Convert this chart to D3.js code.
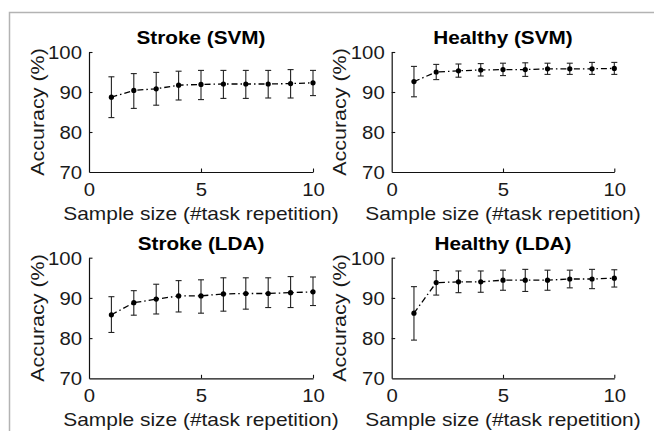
<!DOCTYPE html>
<html>
<head>
<meta charset="utf-8">
<script src="https://cdn.jsdelivr.net/npm/d3@7"></script>
<style>
  html, body { margin: 0; padding: 0; background: #fff; }
  svg { display: block; }
</style>
</head>
<body>
<svg id="chart" width="654" height="431"></svg>
<script>
// ---------- data ----------
const sampleSizes = [1, 2, 3, 4, 5, 6, 7, 8, 9, 10];
const xTickValues = [0, 5, 10];
const yTickValues = [70, 80, 90, 100];
const panelTitles = ["Stroke (SVM)", "Healthy (SVM)", "Stroke (LDA)", "Healthy (LDA)"];
const xAxisLabel = "Sample size (#task repetition)";
const yAxisLabel = "Accuracy (%)";

const strokeSvmMean  = [88.7, 90.4, 90.8, 91.7, 91.9, 92.0, 92.0, 92.0, 92.1, 92.3];
const strokeSvmUpper = [93.8, 94.6, 94.9, 95.2, 95.4, 95.4, 95.4, 95.4, 95.6, 95.4];
const strokeSvmLower = [83.6, 85.9, 86.7, 88.0, 88.1, 88.4, 88.4, 88.5, 88.5, 89.1];

const healthySvmMean  = [92.6, 95.0, 95.3, 95.5, 95.6, 95.6, 95.8, 95.8, 95.8, 95.9];
const healthySvmUpper = [96.4, 96.9, 97.0, 97.1, 97.2, 97.3, 97.2, 97.2, 97.4, 97.4];
const healthySvmLower = [88.8, 93.1, 93.7, 94.0, 94.1, 93.9, 94.4, 94.4, 94.4, 94.4];

const strokeLdaMean  = [85.8, 88.8, 89.7, 90.5, 90.5, 91.0, 91.1, 91.1, 91.3, 91.5];
const strokeLdaUpper = [90.3, 91.8, 93.4, 94.3, 94.5, 95.0, 95.0, 95.0, 95.3, 95.2];
const strokeLdaLower = [81.4, 85.7, 86.0, 86.5, 86.2, 86.7, 87.2, 87.6, 87.6, 88.1];

const healthyLdaMean  = [86.2, 93.8, 94.0, 94.0, 94.4, 94.4, 94.4, 94.7, 94.7, 94.9];
const healthyLdaUpper = [92.8, 96.8, 96.7, 96.7, 96.9, 97.1, 96.9, 96.9, 97.1, 97.0];
const healthyLdaLower = [79.5, 90.7, 91.3, 91.4, 91.9, 91.6, 91.9, 92.5, 92.3, 92.7];

const panelSeries = [
  { mean: strokeSvmMean,  upper: strokeSvmUpper,  lower: strokeSvmLower },
  { mean: healthySvmMean, upper: healthySvmUpper, lower: healthySvmLower },
  { mean: strokeLdaMean,  upper: strokeLdaUpper,  lower: strokeLdaLower },
  { mean: healthyLdaMean, upper: healthyLdaUpper, lower: healthyLdaLower }
];

// ---------- layout ----------
const colLeft  = [89, 391.7];
const colRight = [313, 614.3];
const rowTop    = [52, 257.7];
const rowBottom = [172, 378.3];
const FONT = "'Liberation Sans', Arial, Helvetica, sans-serif";
const STRETCH = 1.13;

const svg = d3.select("#chart");

// frame (light grey, top + left)
svg.append("path")
  .attr("d", "M9.5,431 L9.5,12.5 L654,12.5")
  .attr("fill", "none")
  .attr("stroke", "#b3b3b3")
  .attr("stroke-width", 1.5);

function stretchText(sel, factor) {
  sel.each(function () {
    const w = this.getComputedTextLength();
    if (w > 0) {
      d3.select(this).attr("textLength", w * factor).attr("lengthAdjust", "spacingAndGlyphs");
    }
  });
}

panelSeries.forEach((series, i) => {
  const col = i % 2, row = Math.floor(i / 2);
  const x = d3.scaleLinear().domain([0, 10]).range([colLeft[col], colRight[col]]);
  const y = d3.scaleLinear().domain([70, 100]).range([rowBottom[row], rowTop[row]]);
  const g = svg.append("g");

  // axes
  const xAxis = d3.axisBottom(x).tickValues(xTickValues).tickSizeInner(-3.5).tickSizeOuter(0).tickPadding(11);
  const yAxis = d3.axisLeft(y).tickValues(yTickValues).tickSizeInner(-3.5).tickSizeOuter(0).tickPadding(7);

  const gx = g.append("g").attr("transform", `translate(0,${rowBottom[row]})`).call(xAxis);
  const gy = g.append("g").attr("transform", `translate(${colLeft[col]},0)`).call(yAxis);

  [gx, gy].forEach(ax => {
    ax.select(".domain").attr("stroke", "#111").attr("stroke-width", 1.2);
    ax.selectAll(".tick line").attr("stroke", "#111").attr("stroke-width", 1.1);
    ax.selectAll(".tick text")
      .attr("fill", "#1a1a1a")
      .style("font-family", FONT)
      .style("font-size", "18.5px");
  });
  gy.selectAll(".tick text").attr("dy", "0.36em");
  stretchText(gx.selectAll(".tick text"), 1.1);
  stretchText(gy.selectAll(".tick text"), 1.1);
  gx.selectAll(".tick line").filter(d => d === 0).remove();
  gy.selectAll(".tick line").filter(d => d === 70).remove();

  // title
  const cx = (colLeft[col] + colRight[col]) / 2;
  const title = g.append("text")
    .attr("x", cx)
    .attr("y", rowTop[row] - 8)
    .attr("text-anchor", "middle")
    .attr("fill", "#000")
    .style("font-family", FONT)
    .style("font-weight", "bold")
    .style("font-size", "18.5px")
    .text(panelTitles[i]);
  stretchText(title, 1.12);

  // x label
  const xl = g.append("text")
    .attr("x", cx)
    .attr("y", rowBottom[row] + 47.5)
    .attr("text-anchor", "middle")
    .attr("fill", "#1a1a1a")
    .style("font-family", FONT)
    .style("font-size", "18.5px")
    .text(xAxisLabel);
  stretchText(xl, STRETCH);

  // y label
  const cy = (rowTop[row] + rowBottom[row]) / 2;
  const yl = g.append("text")
    .attr("transform", `translate(${colLeft[col] - 45.5},${cy}) rotate(-90)`)
    .attr("text-anchor", "middle")
    .attr("fill", "#1a1a1a")
    .style("font-family", FONT)
    .style("font-size", "18.5px")
    .text(yAxisLabel);
  stretchText(yl, 1.16);

  const pts = sampleSizes.map((s, k) => ({ s, m: series.mean[k], lo: series.lower[k], hi: series.upper[k] }));

  // error bars
  const eb = g.append("g").attr("stroke", "#222").attr("stroke-width", 1.1).attr("fill", "none");
  eb.selectAll("line.v").data(pts).join("line").attr("class", "v")
    .attr("x1", d => x(d.s)).attr("x2", d => x(d.s))
    .attr("y1", d => y(d.lo)).attr("y2", d => y(d.hi));
  eb.selectAll("line.t").data(pts).join("line").attr("class", "t")
    .attr("x1", d => x(d.s) - 3).attr("x2", d => x(d.s) + 3)
    .attr("y1", d => y(d.hi)).attr("y2", d => y(d.hi));
  eb.selectAll("line.b").data(pts).join("line").attr("class", "b")
    .attr("x1", d => x(d.s) - 3).attr("x2", d => x(d.s) + 3)
    .attr("y1", d => y(d.lo)).attr("y2", d => y(d.lo));

  // dash-dot mean line
  const line = d3.line().x(d => x(d.s)).y(d => y(d.m));
  g.append("path")
    .datum(pts)
    .attr("d", line)
    .attr("fill", "none")
    .attr("stroke", "#000")
    .attr("stroke-width", 1.3)
    .attr("stroke-dasharray", "6,3,1.5,3");

  // markers
  g.selectAll("circle.pt").data(pts).join("circle").attr("class", "pt")
    .attr("cx", d => x(d.s)).attr("cy", d => y(d.m))
    .attr("r", 2.6).attr("fill", "#000");
});
</script>
</body>
</html>
